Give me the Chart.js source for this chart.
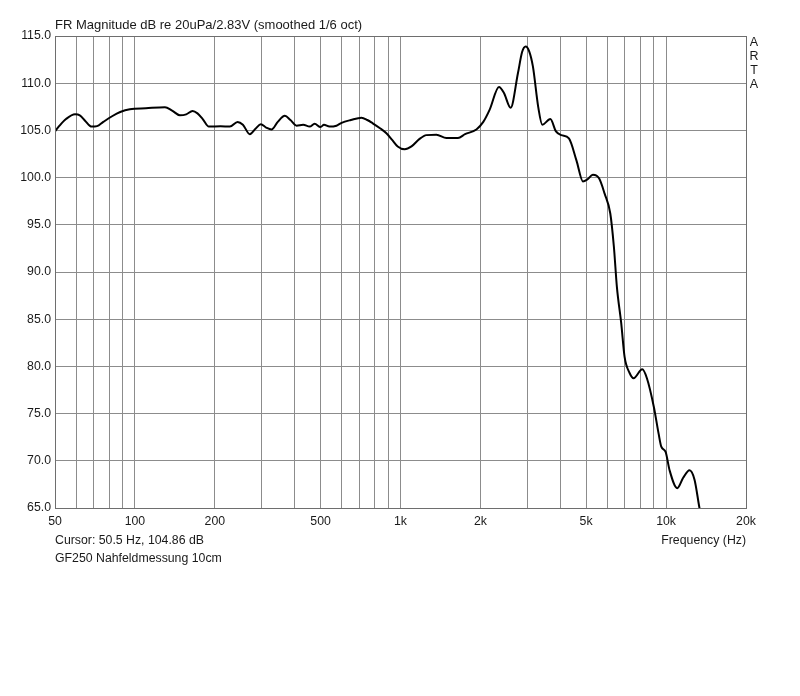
<!DOCTYPE html>
<html>
<head>
<meta charset="utf-8">
<script src="https://cdn.jsdelivr.net/npm/chart.js@4"></script>
<style>
html,body{margin:0;padding:0;background:#fff;}
#wrap{position:relative;width:800px;height:696px;}
canvas{display:block;}
</style>
</head>
<body>
<div id="wrap"><canvas id="c" width="800" height="696"></canvas></div>
<script>
const freqs = [50,52,55,59.5,62,65,68.7,72,76,82,88,95.7,110,129.7,138,147.7,156,164.8,172,180,189.9,210,227.8,243.5,255,270.8,285,297.9,312,326.8,345,366.8,385,406,430,455,475,500,515,540,574,600,650,713,750,786,840,885,930,976,1037,1100,1180,1252,1365,1489,1646,1750,1931,2050,2167,2349,2450,2599,2768,2870,2960,3050,3153,3300,3420,3666,3850,4033,4307,4600,4864,5050,5302,5600,5870,6166,6360,6530,6780,6980,7290,7545,8135,8470,8996,9370,9594,9960,10310,11020,11600,12255,12800,13360,13700];
const dbs = [104.9,105.5,106.2,106.7,106.6,106.0,105.4,105.45,105.9,106.5,106.95,107.25,107.35,107.45,107.1,106.6,106.7,107.05,106.8,106.2,105.4,105.45,105.4,105.9,105.6,104.6,105.2,105.65,105.3,105.1,105.9,106.55,106.1,105.5,105.6,105.4,105.7,105.35,105.6,105.4,105.5,105.8,106.1,106.35,106.1,105.75,105.2,104.7,104.0,103.3,103.0,103.3,104.1,104.5,104.55,104.2,104.2,104.6,105.1,105.9,107.2,109.6,109.0,107.4,111.05,113.3,113.9,113.4,111.75,107.5,105.6,106.2,104.9,104.5,104.15,101.8,99.6,99.8,100.3,99.9,98.3,96.2,92.7,88.4,84.55,81.0,79.3,78.75,79.7,78.75,75.7,72.9,71.5,70.95,69.0,67.1,68.2,69.0,68.0,65.0,63.5];
const gridFreqs = [50,60,70,80,90,100,200,300,400,500,600,700,800,900,1000,2000,3000,4000,5000,6000,7000,8000,9000,10000,20000];
const labelFreqs = [50,100,200,500,1000,2000,5000,10000,20000];
const labelTexts = ["50","100","200","500","1k","2k","5k","10k","20k"];
const yMin = 65, yMax = 115, yStep = 5;
const titleText = "FR Magnitude dB re 20uPa/2.83V (smoothed 1/6 oct)";
const cursorText = "Cursor: 50.5 Hz, 104.86 dB";
const noteText = "GF250 Nahfeldmessung 10cm";
const xTitle = "Frequency (Hz)";
const brand = ["A","R","T","A"];

const FONT = "Arial, 'Liberation Sans', sans-serif";
const TXT = "#1a1a1a";

const textPlugin = {
  id: 'texts',
  afterDraw(chart) {
    const ctx = chart.ctx, a = chart.chartArea;
    ctx.save();
    ctx.strokeStyle = '#6e6e6e';
    ctx.lineWidth = 1;
    ctx.strokeRect(Math.round(a.left)+0.5, Math.round(a.top)+0.5, Math.round(a.right-a.left), Math.round(a.bottom-a.top));
    ctx.fillStyle = TXT;
    ctx.textBaseline = 'middle';
    ctx.textAlign = 'left';
    ctx.font = "13px " + FONT;
    ctx.fillText(titleText, a.left, 25);
    ctx.font = "12.3px " + FONT;
    ctx.fillText(cursorText, a.left, 541);
    ctx.fillText(noteText, a.left, 559);
    ctx.textAlign = 'right';
    ctx.fillText(xTitle, a.right, 541);
    ctx.textAlign = 'center';
    ctx.font = "12.5px " + FONT;
    brand.forEach((ch, i) => ctx.fillText(ch, a.right + 8, 43 + i * 13.7));
    ctx.restore();
  }
};

new Chart(document.getElementById('c'), {
  type: 'line',
  data: {
    datasets: [{
      data: freqs.map((f, i) => ({x: f, y: dbs[i]})),
      borderColor: '#000',
      borderWidth: 2,
      pointRadius: 0,
      fill: false,
      cubicInterpolationMode: 'monotone'
    }]
  },
  options: {
    responsive: false,
    animation: false,
    devicePixelRatio: 1,
    layout: { padding: { left: 0, right: 54, top: 36, bottom: 148 } },
    plugins: { legend: { display: false }, tooltip: { enabled: false } },
    scales: {
      x: {
        type: 'logarithmic',
        min: 50, max: 20000,
        afterBuildTicks(scale) { scale.ticks = gridFreqs.map(v => ({value: v})); },
        afterFit(scale) { scale.height = 40; },
        ticks: {
          autoSkip: false, maxRotation: 0, padding: 6,
          color: TXT, font: { family: FONT, size: 12.3 },
          callback(v) { const i = labelFreqs.indexOf(v); return i >= 0 ? labelTexts[i] : ''; }
        },
        grid: { color: '#8c8c8c', lineWidth: 1, drawTicks: false },
        border: { color: '#6e6e6e' }
      },
      y: {
        type: 'linear',
        min: yMin, max: yMax,
        afterFit(scale) { scale.width = 55; },
        ticks: {
          stepSize: yStep, padding: 4,
          color: TXT, font: { family: FONT, size: 12.3 },
          callback(v) { return Number(v).toFixed(1); }
        },
        grid: { color: '#8c8c8c', lineWidth: 1, drawTicks: false },
        border: { color: '#6e6e6e' }
      }
    }
  },
  plugins: [textPlugin]
});
</script>
</body>
</html>
